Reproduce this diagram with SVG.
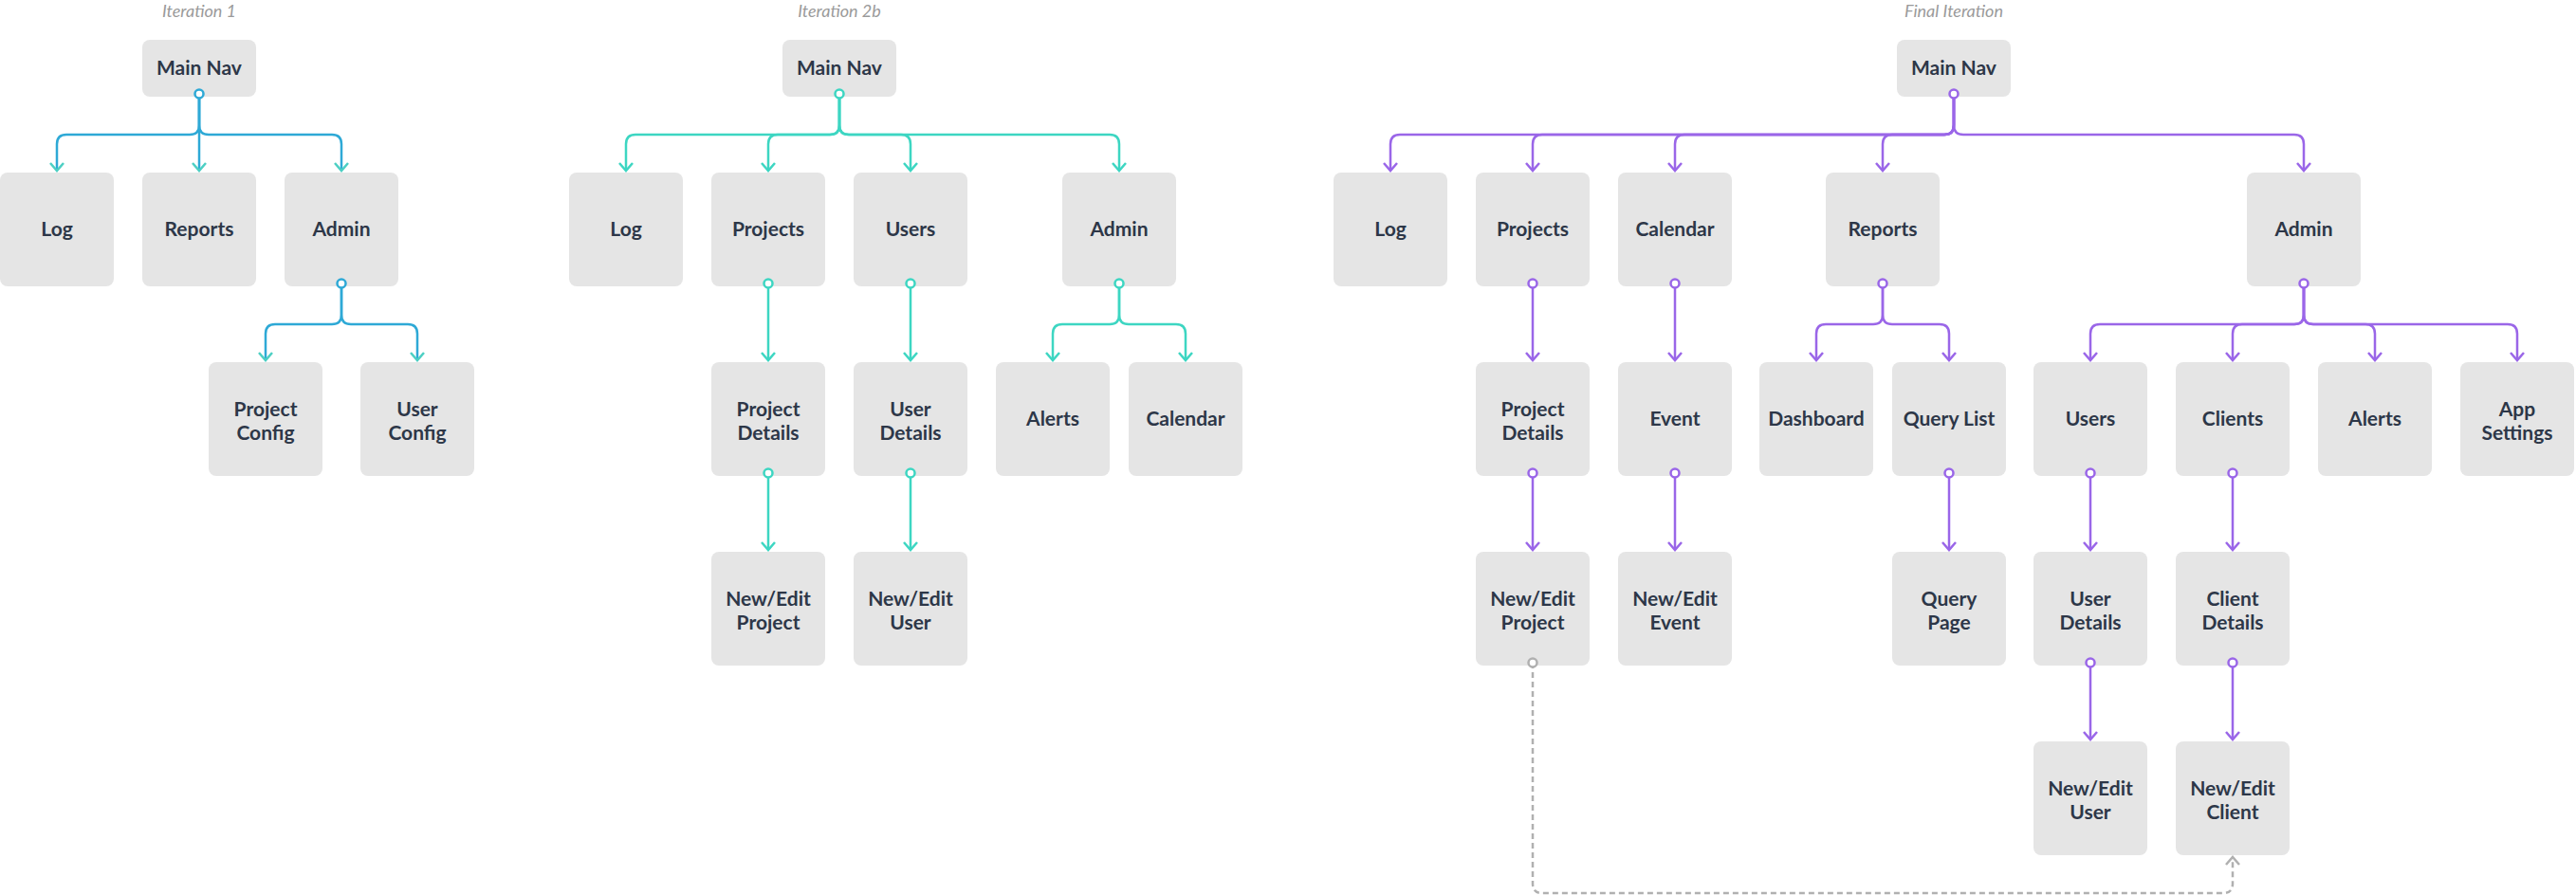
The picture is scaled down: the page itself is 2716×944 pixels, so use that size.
<svg xmlns="http://www.w3.org/2000/svg" width="2716" height="944" viewBox="0 0 2716 944">
<style>
.b{fill:#e5e5e5}
.t{font-family:Lato,"Open Sans","Liberation Sans",sans-serif;font-weight:bold;font-size:21px;fill:#2d3748;text-anchor:middle}
.h{font-family:Lato,"Open Sans","Liberation Sans",sans-serif;font-style:italic;font-size:18px;fill:#9a9a9a;text-anchor:middle}
.c path{fill:none;stroke-width:2.5}
.a path{stroke:#2ea9d6;marker-end:url(#ma)}
.g path{stroke:#3dd6c2;marker-end:url(#mg)}
.p path{stroke:#9a66e8;marker-end:url(#mp)}
.d path{stroke:#b0b0b0;stroke-dasharray:6 4;marker-end:url(#md)}
.o{fill:#fff;stroke-width:2.5}
</style>
<defs>
<marker id="ma" viewBox="-10 -10 20 20" markerUnits="userSpaceOnUse" markerWidth="20" markerHeight="20" orient="auto"><path d="M-8,-7 L0,0 L-8,7" fill="none" stroke="#4ccfc3" stroke-width="2.5"/></marker>
<marker id="mg" viewBox="-10 -10 20 20" markerUnits="userSpaceOnUse" markerWidth="20" markerHeight="20" orient="auto"><path d="M-8,-7 L0,0 L-8,7" fill="none" stroke="#3dd6c2" stroke-width="2.5"/></marker>
<marker id="mp" viewBox="-10 -10 20 20" markerUnits="userSpaceOnUse" markerWidth="20" markerHeight="20" orient="auto"><path d="M-8,-7 L0,0 L-8,7" fill="none" stroke="#9a66e8" stroke-width="2.5"/></marker>
<marker id="md" viewBox="-10 -10 20 20" markerUnits="userSpaceOnUse" markerWidth="20" markerHeight="20" orient="auto"><path d="M-8,-7 L0,0 L-8,7" fill="none" stroke="#b0b0b0" stroke-width="2.5"/></marker>
</defs>
<text class="h" x="210" y="18">Iteration 1</text>
<text class="h" x="885" y="18">Iteration 2b</text>
<text class="h" x="2060" y="18">Final Iteration</text>

<g id="i1-mainnav"><rect class="b" x="150" y="42" width="120" height="60" rx="8"/><text class="t" x="210" y="79">Main Nav</text></g>
<g id="i1-log"><rect class="b" x="0" y="182" width="120" height="120" rx="8"/><text class="t" x="60" y="249">Log</text></g>
<g id="i1-reports"><rect class="b" x="150" y="182" width="120" height="120" rx="8"/><text class="t" x="210" y="249">Reports</text></g>
<g id="i1-admin"><rect class="b" x="300" y="182" width="120" height="120" rx="8"/><text class="t" x="360" y="249">Admin</text></g>
<g id="i1-projectconfig"><rect class="b" x="220" y="382" width="120" height="120" rx="8"/><text class="t" x="280" y="439">Project</text><text class="t" x="280" y="464">Config</text></g>
<g id="i1-userconfig"><rect class="b" x="380" y="382" width="120" height="120" rx="8"/><text class="t" x="440" y="439">User</text><text class="t" x="440" y="464">Config</text></g>

<g id="i2-mainnav"><rect class="b" x="825" y="42" width="120" height="60" rx="8"/><text class="t" x="885" y="79">Main Nav</text></g>
<g id="i2-log"><rect class="b" x="600" y="182" width="120" height="120" rx="8"/><text class="t" x="660" y="249">Log</text></g>
<g id="i2-projects"><rect class="b" x="750" y="182" width="120" height="120" rx="8"/><text class="t" x="810" y="249">Projects</text></g>
<g id="i2-users"><rect class="b" x="900" y="182" width="120" height="120" rx="8"/><text class="t" x="960" y="249">Users</text></g>
<g id="i2-admin"><rect class="b" x="1120" y="182" width="120" height="120" rx="8"/><text class="t" x="1180" y="249">Admin</text></g>
<g id="i2-projectdetails"><rect class="b" x="750" y="382" width="120" height="120" rx="8"/><text class="t" x="810" y="439">Project</text><text class="t" x="810" y="464">Details</text></g>
<g id="i2-userdetails"><rect class="b" x="900" y="382" width="120" height="120" rx="8"/><text class="t" x="960" y="439">User</text><text class="t" x="960" y="464">Details</text></g>
<g id="i2-alerts"><rect class="b" x="1050" y="382" width="120" height="120" rx="8"/><text class="t" x="1110" y="449">Alerts</text></g>
<g id="i2-calendar"><rect class="b" x="1190" y="382" width="120" height="120" rx="8"/><text class="t" x="1250" y="449">Calendar</text></g>
<g id="i2-neweditproject"><rect class="b" x="750" y="582" width="120" height="120" rx="8"/><text class="t" x="810" y="639">New/Edit</text><text class="t" x="810" y="664">Project</text></g>
<g id="i2-newedituser"><rect class="b" x="900" y="582" width="120" height="120" rx="8"/><text class="t" x="960" y="639">New/Edit</text><text class="t" x="960" y="664">User</text></g>

<g id="f-mainnav"><rect class="b" x="2000" y="42" width="120" height="60" rx="8"/><text class="t" x="2060" y="79">Main Nav</text></g>
<g id="f-log"><rect class="b" x="1406" y="182" width="120" height="120" rx="8"/><text class="t" x="1466" y="249">Log</text></g>
<g id="f-projects"><rect class="b" x="1556" y="182" width="120" height="120" rx="8"/><text class="t" x="1616" y="249">Projects</text></g>
<g id="f-calendar"><rect class="b" x="1706" y="182" width="120" height="120" rx="8"/><text class="t" x="1766" y="249">Calendar</text></g>
<g id="f-reports"><rect class="b" x="1925" y="182" width="120" height="120" rx="8"/><text class="t" x="1985" y="249">Reports</text></g>
<g id="f-admin"><rect class="b" x="2369" y="182" width="120" height="120" rx="8"/><text class="t" x="2429" y="249">Admin</text></g>
<g id="f-projectdetails"><rect class="b" x="1556" y="382" width="120" height="120" rx="8"/><text class="t" x="1616" y="439">Project</text><text class="t" x="1616" y="464">Details</text></g>
<g id="f-event"><rect class="b" x="1706" y="382" width="120" height="120" rx="8"/><text class="t" x="1766" y="449">Event</text></g>
<g id="f-dashboard"><rect class="b" x="1855" y="382" width="120" height="120" rx="8"/><text class="t" x="1915" y="449">Dashboard</text></g>
<g id="f-querylist"><rect class="b" x="1995" y="382" width="120" height="120" rx="8"/><text class="t" x="2055" y="449">Query List</text></g>
<g id="f-users"><rect class="b" x="2144" y="382" width="120" height="120" rx="8"/><text class="t" x="2204" y="449">Users</text></g>
<g id="f-clients"><rect class="b" x="2294" y="382" width="120" height="120" rx="8"/><text class="t" x="2354" y="449">Clients</text></g>
<g id="f-alerts"><rect class="b" x="2444" y="382" width="120" height="120" rx="8"/><text class="t" x="2504" y="449">Alerts</text></g>
<g id="f-appsettings"><rect class="b" x="2594" y="382" width="120" height="120" rx="8"/><text class="t" x="2654" y="439">App</text><text class="t" x="2654" y="464">Settings</text></g>
<g id="f-neweditproject"><rect class="b" x="1556" y="582" width="120" height="120" rx="8"/><text class="t" x="1616" y="639">New/Edit</text><text class="t" x="1616" y="664">Project</text></g>
<g id="f-neweditevent"><rect class="b" x="1706" y="582" width="120" height="120" rx="8"/><text class="t" x="1766" y="639">New/Edit</text><text class="t" x="1766" y="664">Event</text></g>
<g id="f-querypage"><rect class="b" x="1995" y="582" width="120" height="120" rx="8"/><text class="t" x="2055" y="639">Query</text><text class="t" x="2055" y="664">Page</text></g>
<g id="f-userdetails"><rect class="b" x="2144" y="582" width="120" height="120" rx="8"/><text class="t" x="2204" y="639">User</text><text class="t" x="2204" y="664">Details</text></g>
<g id="f-clientdetails"><rect class="b" x="2294" y="582" width="120" height="120" rx="8"/><text class="t" x="2354" y="639">Client</text><text class="t" x="2354" y="664">Details</text></g>
<g id="f-newedituser"><rect class="b" x="2144" y="782" width="120" height="120" rx="8"/><text class="t" x="2204" y="839">New/Edit</text><text class="t" x="2204" y="864">User</text></g>
<g id="f-neweditclient"><rect class="b" x="2294" y="782" width="120" height="120" rx="8"/><text class="t" x="2354" y="839">New/Edit</text><text class="t" x="2354" y="864">Client</text></g>

<g id="connectors" class="c">
<g class="a">
<path d="M210,99 V132 Q210,142 200,142 H70 Q60,142 60,152 V180"/>
<path d="M210,99 V180"/>
<path d="M210,99 V132 Q210,142 220,142 H350 Q360,142 360,152 V180"/>
<path d="M360,299 V332 Q360,342 350,342 H290 Q280,342 280,352 V380"/>
<path d="M360,299 V332 Q360,342 370,342 H430 Q440,342 440,352 V380"/>
</g>
<g class="g">
<path d="M885,99 V132 Q885,142 875,142 H670 Q660,142 660,152 V180"/>
<path d="M885,99 V132 Q885,142 875,142 H820 Q810,142 810,152 V180"/>
<path d="M885,99 V132 Q885,142 895,142 H950 Q960,142 960,152 V180"/>
<path d="M885,99 V132 Q885,142 895,142 H1170 Q1180,142 1180,152 V180"/>
<path d="M810,299 V380"/><path d="M810,499 V580"/>
<path d="M960,299 V380"/><path d="M960,499 V580"/>
<path d="M1180,299 V332 Q1180,342 1170,342 H1120 Q1110,342 1110,352 V380"/>
<path d="M1180,299 V332 Q1180,342 1190,342 H1240 Q1250,342 1250,352 V380"/>
</g>
<g class="p">
<path d="M2060,99 V132 Q2060,142 2050,142 H1476 Q1466,142 1466,152 V180"/>
<path d="M2060,99 V132 Q2060,142 2050,142 H1626 Q1616,142 1616,152 V180"/>
<path d="M2060,99 V132 Q2060,142 2050,142 H1776 Q1766,142 1766,152 V180"/>
<path d="M2060,99 V132 Q2060,142 2050,142 H1995 Q1985,142 1985,152 V180"/>
<path d="M2060,99 V132 Q2060,142 2070,142 H2419 Q2429,142 2429,152 V180"/>
<path d="M1616,299 V380"/><path d="M1616,499 V580"/>
<path d="M1766,299 V380"/><path d="M1766,499 V580"/>
<path d="M1985,299 V332 Q1985,342 1975,342 H1925 Q1915,342 1915,352 V380"/>
<path d="M1985,299 V332 Q1985,342 1995,342 H2045 Q2055,342 2055,352 V380"/>
<path d="M2055,499 V580"/>
<path d="M2429,299 V332 Q2429,342 2419,342 H2214 Q2204,342 2204,352 V380"/>
<path d="M2429,299 V332 Q2429,342 2419,342 H2364 Q2354,342 2354,352 V380"/>
<path d="M2429,299 V332 Q2429,342 2439,342 H2494 Q2504,342 2504,352 V380"/>
<path d="M2429,299 V332 Q2429,342 2439,342 H2644 Q2654,342 2654,352 V380"/>
<path d="M2204,499 V580"/><path d="M2204,699 V780"/>
<path d="M2354,499 V580"/><path d="M2354,699 V780"/>
</g>
<g class="d"><path d="M1616,699 V932 Q1616,942 1626,942 H2344 Q2354,942 2354,932 V904"/></g>
<g stroke="#2ea9d6"><circle class="o" cx="210" cy="99" r="4.5"/><circle class="o" cx="360" cy="299" r="4.5"/></g>
<g stroke="#3dd6c2"><circle class="o" cx="885" cy="99" r="4.5"/><circle class="o" cx="810" cy="299" r="4.5"/><circle class="o" cx="810" cy="499" r="4.5"/><circle class="o" cx="960" cy="299" r="4.5"/><circle class="o" cx="960" cy="499" r="4.5"/><circle class="o" cx="1180" cy="299" r="4.5"/></g>
<g stroke="#9a66e8"><circle class="o" cx="2060" cy="99" r="4.5"/><circle class="o" cx="1616" cy="299" r="4.5"/><circle class="o" cx="1616" cy="499" r="4.5"/><circle class="o" cx="1766" cy="299" r="4.5"/><circle class="o" cx="1766" cy="499" r="4.5"/><circle class="o" cx="1985" cy="299" r="4.5"/><circle class="o" cx="2055" cy="499" r="4.5"/><circle class="o" cx="2429" cy="299" r="4.5"/><circle class="o" cx="2204" cy="499" r="4.5"/><circle class="o" cx="2204" cy="699" r="4.5"/><circle class="o" cx="2354" cy="499" r="4.5"/><circle class="o" cx="2354" cy="699" r="4.5"/></g>
<g stroke="#b0b0b0"><circle class="o" cx="1616" cy="699" r="4.5"/></g>
</g>
</svg>
